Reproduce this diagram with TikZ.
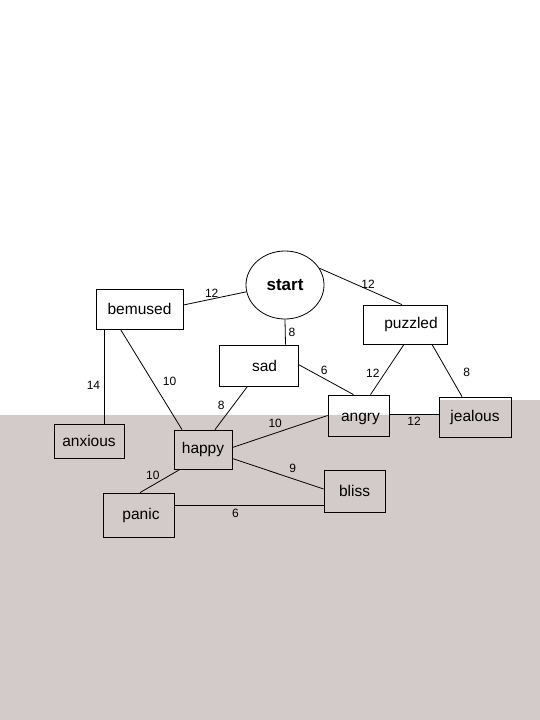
\documentclass[tikz,border=0pt]{standalone}
\usepackage{fontspec}
\setmainfont{Liberation Sans}
\usetikzlibrary{shapes.geometric}
\definecolor{floor}{RGB}{211,202,202}
\tikzset{
  mood/.style={draw,line width=0.8pt,inner sep=0pt,font=\fontsize{15.5}{18}\selectfont},
  root/.style={mood,ellipse,font=\fontsize{17}{20}\selectfont\bfseries},
  link/.style={line width=0.8pt},
  wt/.style={inner sep=1pt,font=\fontsize{12}{14}\selectfont}
}
\begin{document}
\begin{tikzpicture}[x=1pt,y=-1pt]
\useasboundingbox (0,0) rectangle (540,720);
\fill[floor] (0,415) -- (440,415) -- (440,400) -- (540,400) -- (540,720) -- (0,720) -- cycle;
\node[root,minimum width=78pt,minimum height=68pt] (start) at (285,285) {start};
\node[mood,minimum width=87pt,minimum height=40pt] (bemused) at (139.5,309) {bemused};
\node[mood,minimum width=79pt,minimum height=41pt] (sad) at (258.5,365.5) {\hspace*{12pt}sad};
\node[mood,minimum width=84pt,minimum height=39pt] (puzzled) at (405,324.5) {\hspace*{12pt}puzzled};
\node[mood,minimum width=61pt,minimum height=41pt] (angry) at (358.5,415.5) {\hspace*{4pt}\raisebox{-3pt}[\height][\depth]{angry}};
\node[mood,minimum width=72pt,minimum height=40pt] (jealous) at (475,417) {jealous};
\node[mood,minimum width=70pt,minimum height=34pt] (anxious) at (89,441) {anxious};
\node[mood,minimum width=58pt,minimum height=39pt] (happy) at (203,449.5) {happy};
\node[mood,minimum width=71pt,minimum height=44pt] (panic) at (138.5,515) {\hspace*{5pt}panic};
\node[mood,minimum width=61pt,minimum height=42pt] (bliss) at (354.5,491) {bliss};
\draw[link] ([yshift=4pt]bemused.east) -- node[wt,pos=.45,above] {12} (start.190);
\draw[link] (start.26) -- node[wt,pos=.59,above] {12} ([xshift=-3pt]puzzled.north);
\draw[link] (start.south) -- node[wt,right=2pt] {8} ([xshift=27pt]sad.north);
\draw[link] ([xshift=-35pt]bemused.south) -- node[wt,pos=.59,left=3pt] {14} ([xshift=-35pt]bemused.south |- anxious.north);
\draw[link] ([xshift=-19pt]bemused.south) -- node[wt,pos=.52,right=9pt] {10} ([xshift=-21pt]happy.north);
\draw[link] ([xshift=-11pt]sad.south) -- node[wt,pos=.45,left=7pt] {8} ([xshift=12pt]happy.north);
\draw[link] ([yshift=1pt]sad.east) -- node[wt,pos=.47,above=3pt] {6} ([xshift=-5pt]angry.north);
\draw[link] ([xshift=-1pt]puzzled.south) -- node[wt,pos=.57,left=4pt] {12} ([xshift=12pt]angry.north);
\draw[link] ([xshift=27pt]puzzled.south) -- node[wt,pos=.53,right=14pt] {8} ([xshift=-13pt]jealous.north);
\draw[link] ([yshift=1.5pt]angry.east) -- node[wt,below=2pt] {12} ([yshift=1.5pt]angry.east -| jealous.west);
\draw[link] ([yshift=2pt]happy.east) -- node[wt,pos=.45,above=4pt] {10} (angry.west);
\draw[link] ([yshift=-9pt]happy.east) -- node[wt,pos=.66,above=5pt] {9} ([yshift=2pt]bliss.west);
\draw[link] ([xshift=-23pt]happy.south) -- node[wt,pos=.68,above=4pt] {10} ([xshift=1.5pt]panic.north);
\draw[link] ([yshift=10pt]panic.east) -- node[wt,pos=.41,below=3pt] {6} ([yshift=10pt]panic.east -| bliss.west);
\end{tikzpicture}
\end{document}
